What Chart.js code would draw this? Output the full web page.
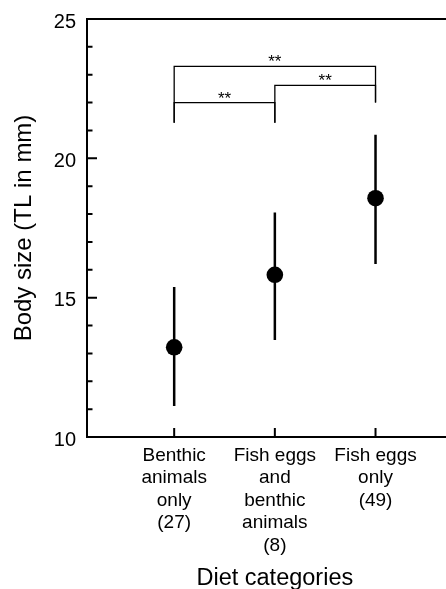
<!DOCTYPE html>
<html>
<head>
<meta charset="utf-8">
<script src="https://cdn.jsdelivr.net/npm/chart.js@4/dist/chart.umd.min.js"></script>
<style>
  html, body { margin: 0; padding: 0; overflow: hidden; background: #fff; }
  canvas { display: block; }
</style>
</head>
<body>
<canvas id="chart" width="471" height="589"></canvas>
<script>
// data
const categories = [
    ['Benthic', 'animals', 'only', '(27)'],
    ['Fish eggs', 'and', 'benthic', 'animals', '(8)'],
    ['Fish eggs', 'only', '(49)']
];
const means = [13.22, 15.82, 18.57];
const lower = [11.11, 13.48, 16.21];
const upper = [15.38, 18.06, 20.85];

// significance brackets
const bracketFrom = [0, 0, 1];
const bracketTo = [2, 1, 2];
const bracketLevel = [23.3, 22.0, 22.62];
const bracketText = ['**', '**', '**'];
const legBottom = [21.28, 21.28, 22.0];

const yTicksMajor = [10, 15, 20, 25];

const FONT = "'Liberation Sans', Arial, Helvetica, sans-serif";

const datasets = [];

// error bars
means.forEach((m, i) => {
    datasets.push({
        data: [{ x: i, y: lower[i] }, { x: i, y: upper[i] }],
        showLine: true,
        borderColor: '#000',
        borderWidth: 2.5,
        pointRadius: 0
    });
});

// brackets
bracketFrom.forEach((f, i) => {
    const t = bracketTo[i];
    datasets.push({
        data: [
            { x: f, y: legBottom[f] },
            { x: f, y: bracketLevel[i] },
            { x: t, y: bracketLevel[i] },
            { x: t, y: legBottom[t] }
        ],
        showLine: true,
        borderColor: '#000',
        borderWidth: 1.3,
        pointRadius: 0
    });
});

// means
datasets.push({
    data: means.map((m, i) => ({ x: i, y: m })),
    pointRadius: 8.3,
    pointBackgroundColor: '#000',
    pointBorderWidth: 0
});

// top frame line, inward tick marks, star labels
const extras = {
    id: 'extras',
    afterDatasetsDraw(chart) {
        const { ctx, scales: { x, y }, chartArea } = chart;
        ctx.save();
        ctx.strokeStyle = '#000';
        ctx.lineWidth = 2;
        ctx.beginPath();
        ctx.moveTo(chartArea.left - 1, chartArea.top);
        ctx.lineTo(chart.width, chartArea.top);
        for (let v = 10; v <= 25; v++) {
            const py = y.getPixelForValue(v);
            const len = yTicksMajor.includes(v) ? 10 : 5.5;
            ctx.moveTo(chartArea.left, py);
            ctx.lineTo(chartArea.left + len, py);
        }
        categories.forEach((c, i) => {
            const px = x.getPixelForValue(i);
            ctx.moveTo(px, chartArea.bottom);
            ctx.lineTo(px, chartArea.bottom - 9);
        });
        ctx.stroke();

        ctx.fillStyle = '#000';
        ctx.font = '17px ' + FONT;
        ctx.textAlign = 'center';
        ctx.textBaseline = 'alphabetic';
        bracketText.forEach((t, i) => {
            const px = (x.getPixelForValue(bracketFrom[i]) + x.getPixelForValue(bracketTo[i])) / 2;
            ctx.fillText(t, px, y.getPixelForValue(bracketLevel[i]) + 1);
        });
        ctx.restore();
    }
};

new Chart(document.getElementById('chart'), {
    type: 'scatter',
    data: { datasets },
    plugins: [extras],
    options: {
        responsive: false,
        animation: false,
        layout: { padding: { top: 19, left: 0, right: 0, bottom: 0 } },
        plugins: { legend: { display: false }, tooltip: { enabled: false } },
        scales: {
            x: {
                type: 'linear',
                min: -0.866,
                max: 2.866,
                afterBuildTicks: s => { s.ticks = categories.map((c, i) => ({ value: i })); },
                afterFit: s => {
                    s.height = 152;
                    s.paddingLeft = 0;
                    s.paddingRight = 0;
                },
                ticks: {
                    autoSkip: false,
                    maxRotation: 0,
                    minRotation: 0,
                    padding: 7,
                    color: '#000',
                    font: { family: FONT, size: 19, lineHeight: 1.19 },
                    callback: v => categories[v]
                },
                grid: { drawOnChartArea: false, drawTicks: false },
                border: { color: '#000', width: 2 },
                title: {
                    display: true,
                    text: 'Diet categories',
                    color: '#000',
                    padding: 0,
                    font: { family: FONT, size: 23.5, lineHeight: 0.85 }
                }
            },
            y: {
                min: 10,
                max: 25,
                afterFit: s => {
                    s.width = 87;
                    s.paddingTop = 0;
                    s.paddingBottom = 0;
                },
                ticks: {
                    stepSize: 1,
                    padding: 11,
                    labelOffset: 3,
                    color: '#000',
                    font: { family: FONT, size: 20 },
                    callback: v => (yTicksMajor.includes(v) ? v : '')
                },
                grid: { drawOnChartArea: false, drawTicks: false },
                border: { color: '#000', width: 2 },
                title: {
                    display: true,
                    text: 'Body size (TL in mm)',
                    color: '#000',
                    padding: { top: 9.5, bottom: 0 },
                    font: { family: FONT, size: 24 }
                }
            }
        }
    }
});
</script>
</body>
</html>
